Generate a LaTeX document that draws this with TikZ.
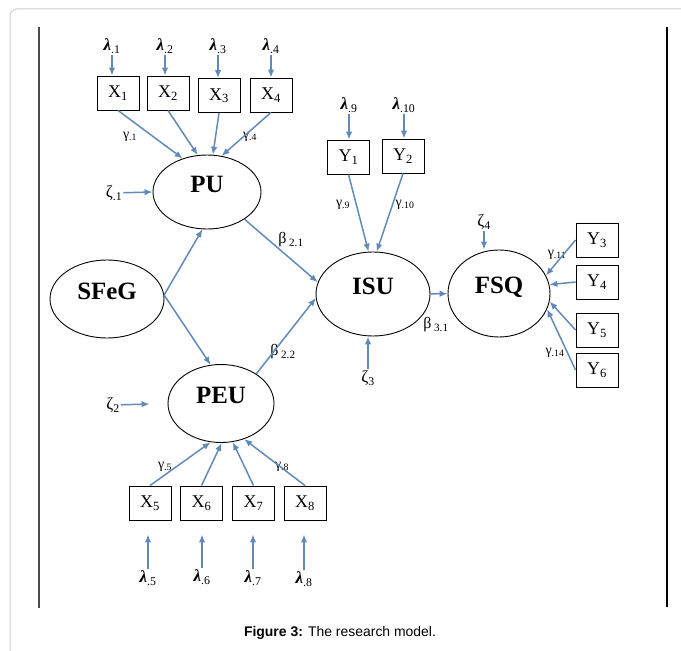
\documentclass[tikz,border=0pt]{standalone}
\usepackage{fontspec}
\setmainfont{Liberation Serif}
\setsansfont{Liberation Sans}
\usetikzlibrary{arrows.meta}
\usetikzlibrary{positioning}
\usetikzlibrary{shapes.geometric}

\definecolor{pathblue}{RGB}{98,138,184}
\definecolor{framegray}{RGB}{206,206,206}
\newcommand{\lam}[1]{\textbf{\textit{λ}}\textsubscript{#1}}

\tikzset{
    latent/.style={ellipse, draw, line width=0.9bp, inner sep=0pt, text height=16bp, text depth=16bp,
        font=\fontsize{25}{25}\selectfont\bfseries},
    indicator/.style={rectangle, draw, line width=0.9bp, minimum width=42bp, minimum height=34bp,
        inner sep=0pt, font=\fontsize{18}{18}\selectfont},
    coef/.style={inner sep=1bp, font=\fontsize{14}{14}\selectfont},
    errterm/.style={inner sep=1bp, font=\fontsize{17}{17}\selectfont},
    path arrow/.style={->, pathblue, line width=1.5bp},
}

\begin{document}
\begin{tikzpicture}[x=1bp, y=-1bp, >={Latex[length=8bp,width=6.5bp]}]
            \useasboundingbox (0,0) rectangle (681,651);
            % frame of the figure
            \draw[framegray, line width=1bp, rounded corners=7bp] (10,700) -- (10,9) -- (720,9);
            \draw[black!70, line width=1.6bp] (39,27) -- (39,608);
            \draw[black, line width=1.4bp] (667,27) -- (667,607);

            % latent constructs
            \node[latent, minimum width=108bp, minimum height=74bp]  (pu)   at (207,192)   {PU};
            \node[latent, minimum width=114bp, minimum height=78bp]  (sfeg) at (107,299)   {SFeG};
            \node[latent, minimum width=114bp, minimum height=84bp]  (isu)  at (373,294)   {ISU};
            \node[latent, minimum width=102bp, minimum height=87bp]  (fsq)  at (499,293.5) {FSQ};
            \node[latent, minimum width=106bp, minimum height=78bp]  (peu)  at (221,403.5) {PEU};

            % indicators
            \node[indicator] (x_1) at (118,93)   {X\textsubscript{1}};
            \node[indicator] (x_2) at (168,93)   {X\textsubscript{2}};
            \node[indicator] (x_3) at (219,95.5) {X\textsubscript{3}};
            \node[indicator] (x_4) at (271,95)   {X\textsubscript{4}};
            \node[indicator] (x_5) at (150,503)  {X\textsubscript{5}};
            \node[indicator] (x_6) at (201.5,503) {X\textsubscript{6}};
            \node[indicator] (x_7) at (253.5,503) {X\textsubscript{7}};
            \node[indicator] (x_8) at (305,503)  {X\textsubscript{8}};
            \node[indicator] (y_1) at (348.5,157) {Y\textsubscript{1}};
            \node[indicator] (y_2) at (403,156)  {Y\textsubscript{2}};
            \node[indicator] (y_3) at (597,240)  {Y\textsubscript{3}};
            \node[indicator] (y_4) at (597,282)  {Y\textsubscript{4}};
            \node[indicator] (y_5) at (597,330)  {Y\textsubscript{5}};
            \node[indicator] (y_6) at (597,370)  {Y\textsubscript{6}};

            % error terms
            \node[errterm] (l_1)  at (112,46)  {\lam{.1}};
            \node[errterm] (l_2)  at (165,46)  {\lam{.2}};
            \node[errterm] (l_3)  at (218,46)  {\lam{.3}};
            \node[errterm] (l_4)  at (271,46)  {\lam{.4}};
            \node[errterm] (l_5)  at (148,578) {\lam{.5}};
            \node[errterm] (l_6)  at (202,577) {\lam{.6}};
            \node[errterm] (l_7)  at (253,578) {\lam{.7}};
            \node[errterm] (l_8)  at (304,579) {\lam{.8}};
            \node[errterm] (l_9)  at (349,105) {\lam{.9}};
            \node[errterm] (l_10) at (404,105) {\lam{.10}};
            \node[errterm] (z_1)  at (114,193) {ζ\textsubscript{.1}};
            \node[errterm] (z_2)  at (113,405) {ζ\textsubscript{2}};
            \node[errterm] (z_3)  at (368,378) {ζ\textsubscript{3}};
            \node[errterm] (z_4)  at (484,222) {ζ\textsubscript{4}};

            % path coefficients
            \node[coef] (g_1)  at (130,137) {γ\textsubscript{.1}};
            \node[coef] (g_4)  at (250,137) {γ\textsubscript{.4}};
            \node[coef] (g_5)  at (165,467) {γ\textsubscript{.5}};
            \node[coef] (g_8)  at (282,467) {γ\textsubscript{.8}};
            \node[coef] (g_9)  at (343,205) {γ\textsubscript{.9}};
            \node[coef] (g_10) at (405,205) {γ\textsubscript{.10}};
            \node[coef] (g_11) at (557,255) {γ\textsubscript{.11}};
            \node[coef] (g_14) at (555,353) {γ\textsubscript{.14}};
            \node[coef, font=\fontsize{16}{16}\selectfont] (b_21) at (291,240) {β\,\textsubscript{2.1}};
            \node[coef, font=\fontsize{16}{16}\selectfont] (b_22) at (283,352) {β\,\textsubscript{2.2}};
            \node[coef, font=\fontsize{16}{16}\selectfont] (b_31) at (436,325) {β\,\textsubscript{3.1}};

            % structural paths
            \path[path arrow]
            (sfeg.4)  edge (pu.263)
            (sfeg.4)  edge (peu.105)
            (pu.-36)  edge (isu.168)
            (peu.40)  edge (isu.184)
            (isu)     edge (fsq);

            % measurement paths
            \path[path arrow]
            (x_1.south) edge (pu.126)
            (x_2.south) edge (pu.104)
            (x_3.south) edge (pu.81)
            (x_4.south) edge (pu.68)
            (x_5.north) edge (peu.255)
            (x_6.north) edge (peu.271)
            (x_7.north) edge (peu.287)
            (x_8.north) edge (peu.303)
            (y_1.south) edge (isu.96)
            (y_2.south) edge (isu.85)
            (y_3.west)  edge (fsq.21)
            (y_4.west)  edge (fsq.10)
            (y_5.west)  edge (fsq.-9)
            (y_6.west)  edge (fsq.-18);

            % errors
            \path[path arrow]
            (l_1)  edge (l_1 |- x_1.north)
            (l_2)  edge (l_2 |- x_2.north)
            (l_3)  edge (l_3 |- x_3.north)
            (l_4)  edge (l_4 |- x_4.north)
            (l_9)  edge (l_9 |- y_1.north)
            (l_10) edge (l_10 |- y_2.north)
            (l_5)  edge[shorten >=14bp] (l_5 |- x_5.south)
            (l_6)  edge[shorten >=14bp] (l_6 |- x_6.south)
            (l_7)  edge[shorten >=14bp] (l_7 |- x_7.south)
            (l_8)  edge[shorten >=14bp] (l_8 |- x_8.south)
            (z_1)  edge (pu.west)
            (z_2)  edge[shorten >=18bp] (peu.west)
            (z_3)  edge (z_3 |- isu.south)
            (z_4)  edge (z_4 |- fsq.north);

            \node[font=\sffamily\fontsize{14}{14}\selectfont] (caption) at (340,633)
                {\textbf{Figure 3:} The research model.};
\end{tikzpicture}
\end{document}
